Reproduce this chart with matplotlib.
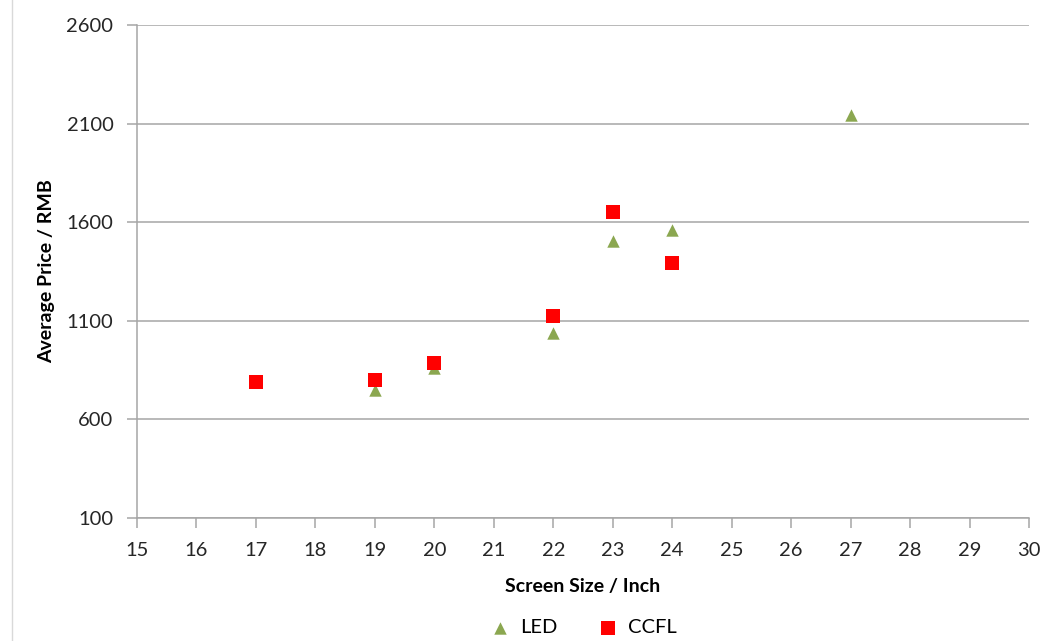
import matplotlib
matplotlib.use('Agg')
import matplotlib.pyplot as plt
from matplotlib.lines import Line2D

plt.rcParams['font.family'] = ['Lato', 'DejaVu Sans']

# data
led_size = [19, 20, 22, 23, 24, 27]
led_price = [750, 862, 1040, 1506, 1560, 2146]
ccfl_size = [17, 19, 20, 22, 23, 24]
ccfl_price = [788, 800, 888, 1124, 1652, 1393]

xticks = list(range(15, 31))
yticks = [100, 600, 1100, 1600, 2100, 2600]

fig = plt.figure(figsize=(10.41, 6.41), dpi=100)
ax = fig.add_axes([137/1041, 1 - 518/641, (1029 - 137)/1041, (518 - 25)/641])

grid_c = '#A6A6A6'
ax.scatter(led_size, led_price, marker='^', s=80, color='#8BA750', label='LED', zorder=3, linewidths=0)
ax.scatter(ccfl_size, ccfl_price, marker='s', s=90, color='#FF0000', label='CCFL', zorder=3, linewidths=0)

ax.set_xlim(15, 30)
ax.set_ylim(100, 2600)
ax.set_xticks(xticks)
ax.set_yticks(yticks)
ax.yaxis.grid(True, color=grid_c, linewidth=1.1)
ax.set_axisbelow(True)

for s in ['top', 'right']:
    ax.spines[s].set_visible(False)
for s in ['left', 'bottom']:
    ax.spines[s].set_color(grid_c)
    ax.spines[s].set_linewidth(1.1)
ax.tick_params(axis='both', colors=grid_c, length=7, width=1.1, labelsize=14.5, labelcolor='#262626')
ax.tick_params(axis='y', pad=10)
ax.tick_params(axis='x', pad=10)

ax.set_xlabel('Screen Size / Inch', fontsize=14, fontweight='bold', labelpad=14)
ax.set_ylabel('Average Price / RMB', fontsize=14, fontweight='bold', labelpad=8)

ax.legend(loc='upper center', bbox_to_anchor=(0.495, -0.168), ncol=2, frameon=False,
          fontsize=14.5, handletextpad=0.0, columnspacing=1.5, markerscale=1.0)

# chart area border on the left
fig.add_artist(Line2D([12/1041, 12/1041], [0, 1], color='#D9D9D9', linewidth=1, transform=fig.transFigure))

fig.savefig('out.png', dpi=100)
